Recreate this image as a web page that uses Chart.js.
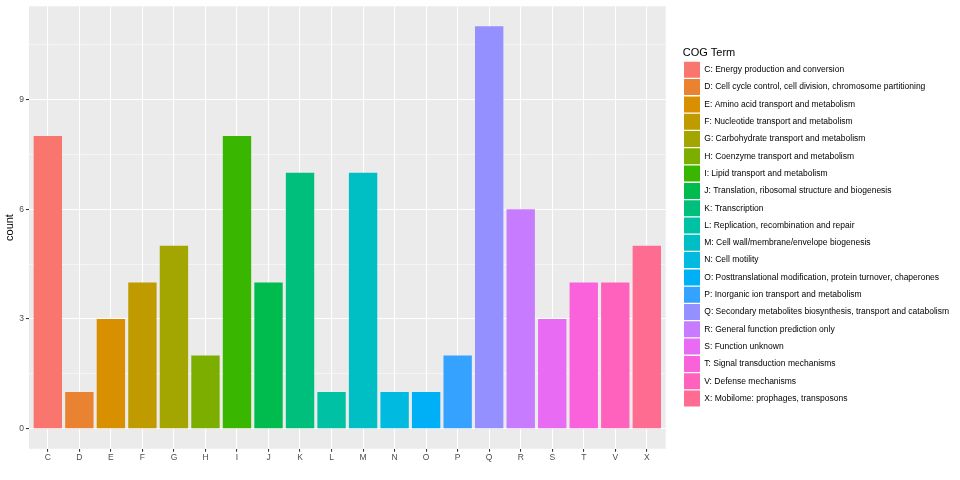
<!DOCTYPE html>
<html>
<head>
<meta charset="utf-8">
<title>COG terms</title>
<script src="https://cdn.jsdelivr.net/npm/chart.js@4.4.1/dist/chart.umd.min.js"></script>
<style>
  html, body { margin: 0; padding: 0; background: #ffffff; }
</style>
</head>
<body>
<canvas id="cogChart" width="960" height="480"></canvas>
<script>
/* --------------- Data --------------- */
const cogCodes = ["C", "D", "E", "F", "G", "H", "I", "J", "K", "L",
  "M", "N", "O", "P", "Q", "R", "S", "T", "V", "X"];
const cogTerms = [
  "Energy production and conversion",
  "Cell cycle control, cell division, chromosome partitioning",
  "Amino acid transport and metabolism",
  "Nucleotide transport and metabolism",
  "Carbohydrate transport and metabolism",
  "Coenzyme transport and metabolism",
  "Lipid transport and metabolism",
  "Translation, ribosomal structure and biogenesis",
  "Transcription",
  "Replication, recombination and repair",
  "Cell wall/membrane/envelope biogenesis",
  "Cell motility",
  "Posttranslational modification, protein turnover, chaperones",
  "Inorganic ion transport and metabolism",
  "Secondary metabolites biosynthesis, transport and catabolism",
  "General function prediction only",
  "Function unknown",
  "Signal transduction mechanisms",
  "Defense mechanisms",
  "Mobilome: prophages, transposons",
];
const counts = [8, 1, 3, 4, 5, 2, 8, 4, 7, 1, 7, 1, 1, 2, 11, 6, 3, 4, 4, 5];
const yTicks = [0, 3, 6, 9];

/* --------------- ggplot default hue palette --------------- */
const cogColors = [
  "#F8766D", "#EA8331", "#D89000", "#C09B00", "#A3A500",
  "#7CAE00", "#39B600", "#00BB4E", "#00BF7D", "#00C1A3",
  "#00BFC4", "#00BAE0", "#00B0F6", "#35A2FF", "#9590FF",
  "#C77CFF", "#E76BF3", "#FA62DB", "#FF62BC", "#FF6C91",
];

/* major breaks plus the minor ones halfway between */
const yGrid = yTicks.flatMap((v, i) => {
  const step = i < yTicks.length - 1 ? yTicks[i + 1] - v : v - yTicks[i - 1];
  return [v, v + step / 2];
});
const isMajor = (v) => yTicks.includes(v);

Chart.defaults.font.family = "'Liberation Sans', Arial, sans-serif";

/* --------------- grey panel behind the bars --------------- */
const panelBg = {
  id: "panelBg",
  beforeDraw(chart) {
    const { ctx, chartArea: a } = chart;
    ctx.save();
    ctx.fillStyle = "#EBEBEB";
    ctx.fillRect(a.left, a.top, a.right - a.left, a.bottom - a.top);
    ctx.restore();
  },
};

/* --------------- push the legend away from the panel --------------- */
const legendGap = 17;
const legendOffset = {
  id: "legendOffset",
  afterInit(chart) {
    const lg = chart.legend;
    const fit = lg.fit;
    lg.fit = function () {
      fit.call(this);
      this.width += legendGap;
    };
  },
  afterLayout(chart) {
    chart.legend.left += legendGap;
  },
};

const cogChart = new Chart(document.getElementById("cogChart"), {
  type: "bar",
  plugins: [panelBg, legendOffset],
  data: {
    labels: cogCodes,
    datasets: [{
      label: "count",
      data: counts.map((v, i) => ({ x: i, y: v })),
      backgroundColor: cogColors,
      borderWidth: 0,
      barPercentage: 0.9,
      categoryPercentage: 1.0,
    }],
  },
  options: {
    responsive: false,
    animation: false,
    layout: { padding: { top: 5, right: 1, bottom: 16, left: 0 } },
    scales: {
      x: {
        type: "linear",
        min: -0.6,
        max: cogCodes.length - 0.4,
        offset: false,
        afterBuildTicks: (scale) => {
          scale.ticks = cogCodes.map((_, i) => ({ value: i }));
        },
        ticks: {
          autoSkip: false,
          maxRotation: 0,
          padding: 1,
          color: "#4D4D4D",
          font: { size: 8.5 },
          callback: (v) => cogCodes[v],
        },
        grid: {
          offset: false,
          color: "#FFFFFF",
          lineWidth: 1.07,
          tickColor: "#333333",
          tickLength: 3,
          tickWidth: 1.07,
        },
        border: { display: false },
      },
      y: {
        min: -0.55,
        max: 11.55,
        afterBuildTicks: (scale) => {
          scale.ticks = yGrid.map((v) => ({ value: v }));
        },
        ticks: {
          padding: 2,
          color: "#4D4D4D",
          font: { size: 8.5, lineHeight: 1 },
          callback: (v) => (isMajor(v) ? String(v) : ""),
        },
        grid: {
          color: "#FFFFFF",
          lineWidth: (c) => (isMajor(c.tick.value) ? 1.07 : 0.53),
          tickColor: (c) => (isMajor(c.tick.value) ? "#333333" : "rgba(0,0,0,0)"),
          tickLength: 3,
          tickWidth: 1.07,
        },
        border: { display: false },
        title: {
          display: true,
          text: "count",
          color: "#000000",
          font: { size: 11 },
          padding: { top: 3, bottom: 1 },
        },
      },
    },
    plugins: {
      tooltip: { enabled: false },
      legend: {
        position: "right",
        align: "center",
        fullSize: false,
        maxWidth: 400,
        onClick: () => {},
        title: {
          display: true,
          text: "COG Term",
          position: "start",
          color: "#000000",
          font: { size: 11 },
          padding: { top: 0, bottom: 0 },
        },
        labels: {
          boxWidth: 16,
          boxHeight: 16,
          padding: 1.3,
          color: "#000000",
          font: { size: 8.5 },
          generateLabels: () => cogCodes.map((code, i) => ({
            text: code + ": " + cogTerms[i],
            fillStyle: cogColors[i],
            strokeStyle: cogColors[i],
            lineWidth: 0,
            hidden: false,
            index: i,
          })),
        },
      },
    },
  },
});
</script>
</body>
</html>
